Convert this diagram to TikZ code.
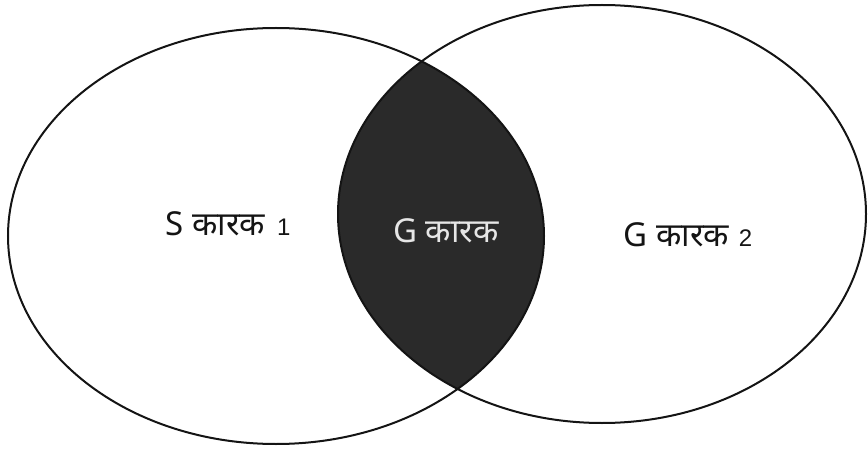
\documentclass[tikz,border=0pt]{standalone}
\usepackage{fontspec}
\setmainfont{Noto Sans}
\newfontfamily\hindifont[Script=Devanagari]{Noto Sans}
\newfontfamily\digitfont{Liberation Sans}
\usetikzlibrary{positioning}
\definecolor{setdark}{HTML}{2A2A2A}
\definecolor{setline}{HTML}{141414}
\definecolor{lighttext}{HTML}{E6E6E6}
\newcommand{\karak}{{\hindifont कारक}}
\newcommand{\idx}[1]{{\digitfont\fontsize{24}{28}\selectfont #1}}

\begin{document}
\begin{tikzpicture}[
  x=1pt,y=1pt,
  setline/.style={draw=setline,line width=2pt},
  label/.style={font=\fontsize{33}{38}\selectfont,inner sep=0pt,anchor=base,text=setline}
]
\useasboundingbox (0,0) rectangle (868,448);
\coordinate (lc) at (276,212);
\coordinate (rc) at (602,234);
% shaded overlap
\begin{scope}
  \clip (lc) ellipse [x radius=268, y radius=208];
  \fill[setdark] (rc) ellipse [x radius=264, y radius=209];
\end{scope}
\draw[setline] (lc) ellipse [x radius=268, y radius=208];
\draw[setline] (rc) ellipse [x radius=264, y radius=209];
\node[label] (sone) at (228,213) {S \karak\hspace{12pt}\idx{1}};
\node[label,text=lighttext] (gmid) at (446,206) {G \karak};
\node[label] (gtwo) at (688,201) {G \karak\hspace{10pt}\idx{2}};
\end{tikzpicture}
\end{document}
